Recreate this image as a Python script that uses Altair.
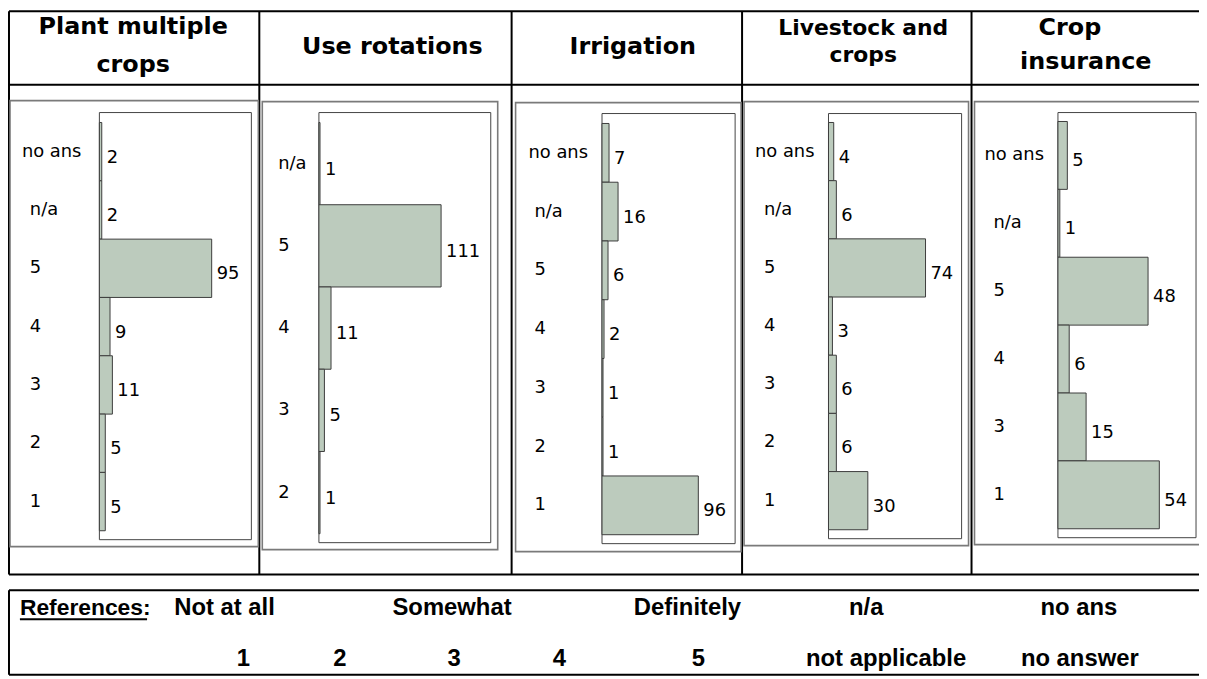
import altair as alt
import pandas as pd

# ---------------- data ----------------
panel_titles = [["Plant multiple", "crops"], ["Use rotations"], ["Irrigation"],
                ["Livestock and", "crops"], ["Crop", "insurance"]]

cats_multiple = ["no ans", "n/a", "5", "4", "3", "2", "1"]
vals_multiple = [2, 2, 95, 9, 11, 5, 5]

cats_rotations = ["n/a", "5", "4", "3", "2"]
vals_rotations = [1, 111, 11, 5, 1]

cats_irrigation = ["no ans", "n/a", "5", "4", "3", "2", "1"]
vals_irrigation = [7, 16, 6, 2, 1, 1, 96]

cats_livestock = ["no ans", "n/a", "5", "4", "3", "2", "1"]
vals_livestock = [4, 6, 74, 3, 6, 6, 30]

cats_insurance = ["no ans", "n/a", "5", "4", "3", "1"]
vals_insurance = [5, 1, 48, 6, 15, 54]

legend_heading = "References:"
legend_top = ["Not at all", "Somewhat", "Definitely", "n/a", "no ans"]
legend_bottom = ["1", "2", "3", "4", "5", "not applicable", "no answer"]

# ---------------- layout helpers ----------------
M = 8
W, H = 1199, 671
BAR_FILL = "#bccbbd"
BAR_STROKE = "#3c3c3c"
LABEL_FONT = "DejaVu Sans"
HEAD_FONT = "DejaVu Sans"
LEG_FONT = "Liberation Sans"

one = pd.DataFrame({"k": [0]})


def px(x):
    return max(1, x - M)


def py(y):
    return max(1, y - M)


def hrule(x1, x2, y, w=2, color="black"):
    return alt.Chart(one).mark_rule(color=color, strokeWidth=w).encode(
        x=alt.value(px(x1)), x2=alt.value(px(x2)), y=alt.value(py(y)))


def vrule(x, y1, y2, w=2, color="black"):
    return alt.Chart(one).mark_rule(color=color, strokeWidth=w).encode(
        x=alt.value(px(x)), y=alt.value(py(y1)), y2=alt.value(py(y2)))


def frame(x1, y1, x2, y2, color, w):
    return alt.Chart(one).mark_rect(fillOpacity=0, stroke=color, strokeWidth=w).encode(
        x=alt.value(px(x1)), x2=alt.value(px(x2)), y=alt.value(py(y1)), y2=alt.value(py(y2)))


def label(txt, x, y, size, font, weight="normal", align="center"):
    return alt.Chart(one).mark_text(
        text=txt, font=font, fontSize=size, fontWeight=weight, align=align,
        baseline="alphabetic", color="black").encode(x=alt.value(px(x)), y=alt.value(py(y)))


layers = []

# table grid
for x in [6, 261, 515, 747, 978]:
    layers.append(vrule(x, 5, 576))
for y in [5, 83, 576]:
    layers.append(hrule(6, 1210, y))

# panel geometry: outer frame, inner frame, bar band extent, px per unit, label x's
panels = [
    dict(cats=cats_multiple, vals=vals_multiple, outer=(10, 99, 260, 548), inner=(100, 111, 253, 541),
         band=(121, 532), k=1.19, lx=(22, 30)),
    dict(cats=cats_rotations, vals=vals_rotations, outer=(264, 100, 501, 551), inner=(321, 111, 494, 544),
         band=(121, 535), k=1.108, lx=(279, 280)),
    dict(cats=cats_irrigation, vals=vals_irrigation, outer=(519, 101, 746, 553), inner=(606, 112, 740, 545),
         band=(122, 536), k=1.01, lx=(532, 538)),
    dict(cats=cats_livestock, vals=vals_livestock, outer=(749, 100, 975, 547), inner=(834, 112, 968, 540),
         band=(121, 531), k=1.32, lx=(760, 769)),
    dict(cats=cats_insurance, vals=vals_insurance, outer=(981, 100, 1215, 546), inner=(1065, 111, 1204, 539),
         band=(120, 530), k=1.89, lx=(991, 1000)),
]

for p in panels:
    ox1, oy1, ox2, oy2 = p["outer"]
    ix1, iy1, ix2, iy2 = p["inner"]
    layers.append(frame(ox1, oy1, ox2, oy2, "#7a7a7a", 1.6))
    layers.append(frame(ix1, iy1, ix2, iy2, "#444444", 1))

# headers
header_specs = [
    [(134, 32, 24), (134, 70, 24)],
    [(395, 52, 24)],
    [(637, 52, 24)],
    [(869, 33, 22), (869, 60, 22)],
    [(1077, 33, 24), (1093, 67, 24)],
]
for lines, specs in zip(panel_titles, header_specs):
    for txt, (x, y, s) in zip(lines, specs):
        layers.append(label(txt, x, y, s, HEAD_FONT, "bold"))

# bar panels
for p in panels:
    ix1, iy1, ix2, iy2 = p["inner"]
    b1, b2 = p["band"]
    df = pd.DataFrame({"cat": p["cats"], "val": p["vals"]})
    xs = alt.Scale(domain=[0, (ix2 - ix1) / p["k"]], range=[px(ix1), px(ix2)], zero=True, nice=False)
    ys = alt.Scale(domain=p["cats"], range=[py(b1), py(b2)], paddingInner=0, paddingOuter=0)
    X = alt.X("val:Q", scale=xs, axis=None)
    Y = alt.Y("cat:N", scale=ys, axis=None)
    bars = alt.Chart().mark_bar(fill=BAR_FILL, stroke=BAR_STROKE, strokeWidth=1).encode(x=X, y=Y)
    vals = alt.Chart().mark_text(align="left", baseline="middle", dx=5, dy=6, font=LABEL_FONT,
                                 fontSize=18, color="black").encode(x=X, y=Y, text="val:Q")
    lab_a = alt.Chart().mark_text(align="left", baseline="middle", font=LABEL_FONT, fontSize=18,
                                  color="black").encode(x=alt.value(px(p["lx"][0])), y=Y, text="cat:N"
                                                        ).transform_filter(alt.datum.cat == "no ans")
    lab_b = alt.Chart().mark_text(align="left", baseline="middle", font=LABEL_FONT, fontSize=18,
                                  color="black").encode(x=alt.value(px(p["lx"][1])), y=Y, text="cat:N"
                                                        ).transform_filter(alt.datum.cat != "no ans")
    layers.append(alt.layer(bars, vals, lab_a, lab_b, data=df))

# legend box
layers.append(hrule(4, 1210, 592))
layers.append(hrule(4, 1210, 677))
layers.append(vrule(5, 592, 677))

layers.append(label(legend_heading, 20, 617, 23, LEG_FONT, "bold", "left"))
layers.append(hrule(20, 148, 621, 2))
for txt, x in zip(legend_top, [226, 455, 692, 872, 1086]):
    layers.append(label(txt, x, 617, 24, LEG_FONT, "bold"))
for txt, x in zip(legend_bottom, [245, 342, 457, 563, 703, 892, 1087]):
    layers.append(label(txt, x, 668, 24, LEG_FONT, "bold"))

chart = alt.layer(*layers).resolve_scale(x="independent", y="independent").properties(
    width=W, height=H, autosize=alt.AutoSizeParams(type="none"), padding=0
).configure_view(stroke=None)

chart.save("out.html", embed_options={"renderer": "svg", "actions": False})
